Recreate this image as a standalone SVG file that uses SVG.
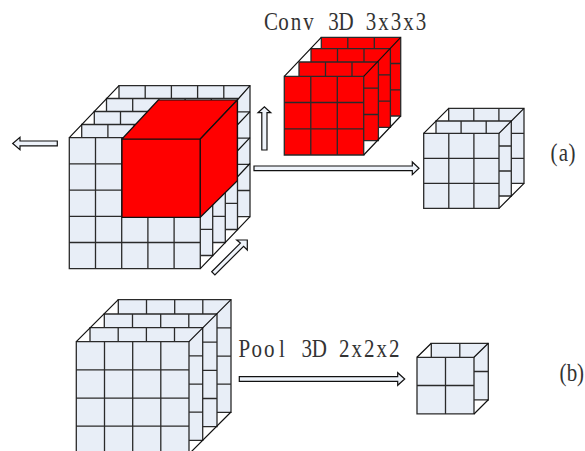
<svg xmlns="http://www.w3.org/2000/svg" width="585" height="451" viewBox="0 0 585 451">
<style>
.b{fill:#e8eef7}.r{fill:#ff0000}
.g{stroke:#2a2a2a;stroke-width:1.3;fill:none}
.e{stroke:#111;stroke-width:1.2;fill:none}
.k{fill:#ff0000;stroke:#111;stroke-width:1.2;stroke-linejoin:round}
.a{fill:#eef3fa;stroke:#111;stroke-width:1.2;stroke-linejoin:miter}
text{font-family:"Liberation Serif",serif;font-size:21px;fill:#333;text-anchor:middle}
</style>
<defs>
<g id="g5"><rect class="b" width="131" height="131"/><path class="g" d="M0 0H131V131H0ZM26.2 0V131M52.4 0V131M78.6 0V131M104.8 0V131M0 26.2H131M0 52.4H131M0 78.6H131M0 104.8H131"/></g>
<g id="g3r"><rect class="r" width="79.4" height="78.7"/><path class="g" d="M0 0H79.4V78.7H0ZM26.5 0V78.7M53 0V78.7M0 26.2H79.4M0 52.5H79.4"/></g>
<g id="g3b"><rect class="b" width="75.3" height="75"/><path class="g" d="M0 0H75.3V75H0ZM25.1 0V75M50.2 0V75M0 25H75.3M0 50H75.3"/></g>
<g id="g4"><rect class="b" width="112.7" height="112.7"/><path class="g" d="M0 0H112.7V112.7H0ZM28.2 0V112.7M56.4 0V112.7M84.5 0V112.7M0 28.2H112.7M0 56.4H112.7M0 84.5H112.7"/></g>
<g id="g2"><rect class="b" width="57" height="56.5"/><path class="g" d="M0 0H57V56.5H0ZM28.5 0V56.5M0 28.2H57"/></g>
</defs>
<rect width="585" height="451" fill="#fff"/>
<g id="input-volume">
<use href="#g5" x="119" y="85.7"/>
<use href="#g5" x="106.5" y="98.5"/>
<use href="#g5" x="94.3" y="111.5"/>
<use href="#g5" x="81.7" y="124.5"/>
<use href="#g5" x="69.3" y="137.7"/>
<path class="e" d="M69.3 137.7L119 85.7M200.3 268.7L250 216.7M237.3 100L250 85.7M237.3 125L250 111.7M237.3 151L250 137.7M237.3 177L250 163.5"/>
</g>
<g id="kernel-cube">
<path class="k" d="M122 139H200.3V217.3H122Z"/>
<path class="k" d="M122 139L158.3 100H237.3L200.3 139Z"/>
<path class="k" d="M200.3 139L237.3 100V180.7L200.3 217.3Z"/>
</g>
<g id="conv-stack">
<use href="#g3r" x="321.3" y="37.3"/>
<use href="#g3r" x="311" y="48.7"/>
<use href="#g3r" x="299" y="62"/>
<use href="#g3r" x="284.3" y="76.3"/>
<path class="e" d="M284.3 76.3L321.3 37.3M363.7 76.3L400.7 37.3M363.7 155L400.7 116"/>
</g>
<g id="output-a">
<use href="#g3b" x="448.7" y="108.3"/>
<use href="#g3b" x="436" y="121"/>
<use href="#g3b" x="423.7" y="133.3"/>
<path class="e" d="M423.7 133.3L448.7 108.3M499 133.3L524 108.3M499 208.3L524 183.3"/>
</g>
<g id="pool-input">
<use href="#g4" x="118.3" y="299.7"/>
<use href="#g4" x="104.3" y="314"/>
<use href="#g4" x="90" y="327.7"/>
<use href="#g4" x="76.3" y="341.7"/>
<path class="e" d="M76.3 341.7L118.3 299.7M189 341.7L231 299.7M189 454L231 412"/>
</g>
<g id="output-b">
<use href="#g2" x="431.3" y="343.3"/>
<use href="#g2" x="417" y="357.3"/>
<path class="e" d="M417 357.3L431.3 343.3M474 357.3L488.3 343.3M474 414L488.3 399.8"/>
</g>
<g id="connectors">
<polygon class="a" points="57.3,141 20,141 20,137.3 12.7,143.5 20,149.7 20,145.8 57.3,145.8"/>
<polygon class="a" points="261.8,150 261.8,112.7 258,112.7 264.4,106.7 270.8,112.7 267,112.7 267,150"/>
<polygon class="a" points="254,166 412.3,166 412.3,162 419,168.3 412.3,174.6 412.3,170.6 254,170.6"/>
<polygon class="a" points="211.7,271.7 240.4,243.1 236.7,240 247.3,240 247.3,250 243.6,246.3 214.9,274.9"/>
<polygon class="a" points="239.3,376.7 397.7,376.7 397.7,372.7 404.7,379 397.7,385.3 397.7,381.3 239.3,381.3"/>
</g>
<g id="labels">
<text transform="translate(0 30) scale(1 1.2)" x="271 283.5 296 308.5 321 333.5 346 358.5 371 383.5 396 408.5 421" y="0">Conv 3D 3x3x3</text>
<text transform="translate(0 356.5) scale(1 1.2)" x="244.3 256.8 269.3 281.8 294.3 306.8 319.3 331.8 344.3 356.8 369.3 381.8 394.3" y="0">Pool 3D 2x2x2</text>
<text transform="translate(0 161) scale(1 1.2)" x="554 563.5 572" y="0">(a)</text>
<text transform="translate(0 381) scale(1 1.2)" x="563 572 580.5" y="0">(b)</text>
</g>
</svg>
